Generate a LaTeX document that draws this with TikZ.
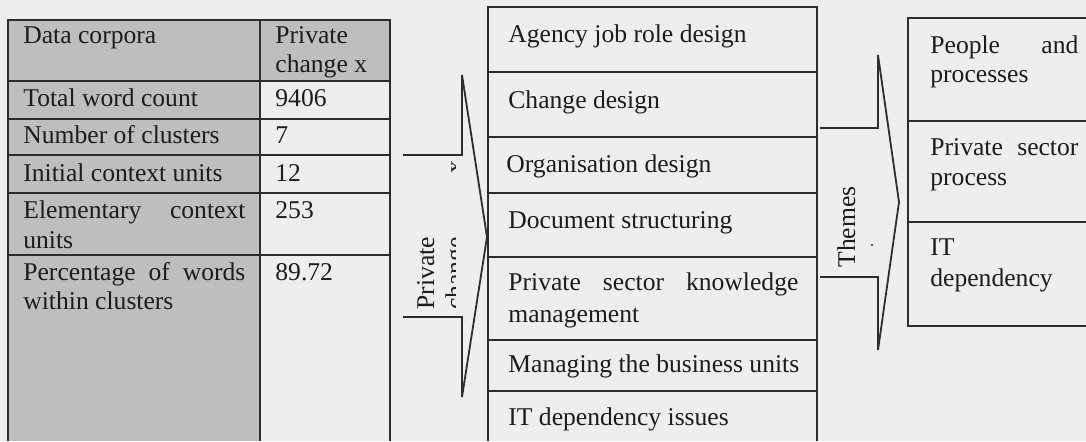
\documentclass[tikz,border=0pt]{standalone}
\usepackage{fontspec}
\setmainfont{Liberation Serif}
\definecolor{bgc}{RGB}{238,238,241}
\definecolor{greyc}{RGB}{190,190,192}
\definecolor{linec}{RGB}{45,45,45}
\definecolor{txtc}{RGB}{28,28,28}
\begin{document}
\begin{tikzpicture}[x=0.5pt,y=-0.5pt,
  txt/.style={anchor=base west,inner sep=0pt,text=txtc,font=\fontsize{12.8}{14.5}\selectfont},
  rtxt/.style={txt,rotate=90},
  ln/.style={draw=linec,line width=0.9pt},
  arr/.style={draw=linec,line width=0.9pt,line join=miter}]
\useasboundingbox (0,0) rectangle (1086,441);
\fill[bgc] (0,0) rectangle (1086,441);
% ---------- table ----------
\fill[greyc] (8,20) rectangle (260,441);
\fill[greyc] (260,20) rectangle (390,81);
\draw[ln] (8,441) -- (8,20) -- (390,20) -- (390,441);
\draw[ln] (260,20) -- (260,441);
\foreach \yy in {81,119,155,193,255} \draw[ln] (8,\yy) -- (390,\yy);
\node[txt] (h1) at (23,43) {Data corpora};
\node[txt] (h2a) at (275,43) {Private};
\node[txt] (h2b) at (275,72) {change x};
\node[txt] (r1) at (23,106) {Total word count};
\node[txt] (v1) at (275,106) {9406};
\node[txt] (r2) at (23,143) {Number of clusters};
\node[txt] (v2) at (275,143) {7};
\node[txt] (r3) at (23,181) {Initial context units};
\node[txt] (v3) at (275,181) {12};
\node[txt] (r4a) at (23,218) {\makebox[111pt][s]{Elementary context}};
\node[txt] (r4b) at (23,248) {units};
\node[txt] (v4) at (275,218) {253};
\node[txt] (r5a) at (23,280) {\makebox[111pt][s]{Percentage of words}};
\node[txt] (r5b) at (23,309) {within clusters};
\node[txt] (v5) at (275,280) {89.72};
% ---------- left arrow ----------
\draw[arr] (403,155) -- (462,155) -- (462,75) -- (487,237) -- (462,397) -- (462,317) -- (403,317);
\node[rtxt] (pa) at (434,310) {Private};
\begin{scope}
\clip (440,150) rectangle (455,330);
\node[rtxt] (pb) at (463,310) {change};
\node[rtxt] (px) at (463,174) {x};
\end{scope}
% ---------- middle boxes ----------
\draw[ln] (488,441) -- (488,7) -- (817,7) -- (817,441);
\foreach \yy in {72,137,193,257,340,391} \draw[ln] (488,\yy) -- (817,\yy);
\node[txt] (m1) at (508,42) {Agency job role design};
\node[txt] (m2) at (508,108) {Change design};
\node[txt] (m3) at (506,172) {Organisation design};
\node[txt] (m4) at (508,228) {Document structuring};
\node[txt] (m5a) at (508,290) {\makebox[145pt][s]{Private sector knowledge}};
\node[txt] (m5b) at (508,322) {management};
\node[txt] (m6) at (508,372) {Managing the business units};
\node[txt] (m7) at (508,425) {IT dependency issues};
% ---------- right arrow ----------
\draw[arr] (820,128) -- (878,128) -- (878,55) -- (899,202) -- (878,350) -- (878,277) -- (820,277);
\node[rtxt] (th) at (855,268) {Themes};
\fill[txtc] (872,245) circle (1.2);
% ---------- right boxes ----------
\draw[ln] (1086,18) -- (908,18) -- (908,326) -- (1086,326);
\foreach \yy in {121,222} \draw[ln] (908,\yy) -- (1086,\yy);
\node[txt] (o1a) at (930,53) {\makebox[74pt][s]{People and}};
\node[txt] (o1b) at (930,82) {processes};
\node[txt] (o2a) at (930,155) {\makebox[74pt][s]{Private sector}};
\node[txt] (o2b) at (930,185) {process};
\node[txt] (o3a) at (930,255) {IT};
\node[txt] (o3b) at (930,286) {dependency};
\end{tikzpicture}
\end{document}
